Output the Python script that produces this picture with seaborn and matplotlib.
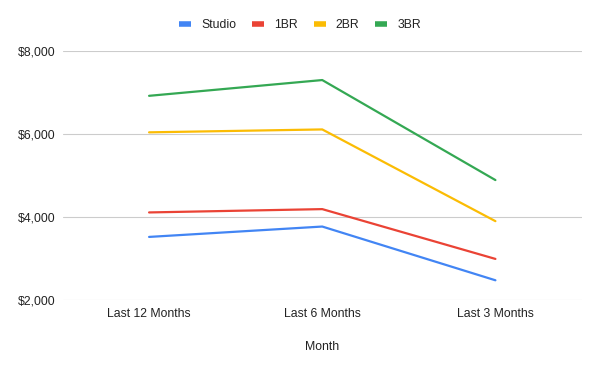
import matplotlib
matplotlib.use("Agg")
import matplotlib.pyplot as plt
import seaborn as sns
import pandas as pd
from matplotlib.ticker import FuncFormatter
from matplotlib.lines import Line2D

months = ["Last 12 Months", "Last 6 Months", "Last 3 Months"]
studio = [3520, 3770, 2475]
br1 = [4110, 4190, 2990]
br2 = [6040, 6110, 3900]
br3 = [6920, 7300, 4890]
series_names = ["Studio", "1BR", "2BR", "3BR"]
colors = ["#4285F4", "#EA4335", "#FBBC04", "#34A853"]

rows = []
for name, vals in zip(series_names, [studio, br1, br2, br3]):
    for m, v in zip(months, vals):
        rows.append({"Month": m, "Type": name, "Value": v})
df = pd.DataFrame(rows)

sns.set_theme(style="white")
plt.rcParams['font.family'] = ['Liberation Sans', 'DejaVu Sans']

fig = plt.figure(figsize=(6, 3.71), dpi=100)
ax = fig.add_axes([62.5/600, 1-300/371, (582-62.5)/600, (300-51)/371])

sns.lineplot(data=df, x="Month", y="Value", hue="Type", hue_order=series_names,
             palette=colors, linewidth=1.6, ax=ax, sort=False, legend=False)

ax.set_xlim(-0.5, 2.5)
ax.set_ylim(2000, 8000)
ax.set_yticks([2000, 4000, 6000, 8000])
ax.yaxis.set_major_formatter(FuncFormatter(lambda v, p: f"${v:,.0f}"))
ax.grid(axis="y", color="#cccccc", linewidth=0.8)
ax.set_axisbelow(True)
for s in ax.spines.values():
    s.set_visible(False)
ax.tick_params(axis="both", length=0, labelsize=8.8, colors="#222222")
ax.tick_params(axis="y", pad=5)
ax.tick_params(axis="x", pad=6)
ax.set_ylabel("")
ax.set_xlabel("Month", fontsize=8.8, color="#222222", labelpad=15)

handles = [Line2D([0], [0], color=c, linewidth=4, solid_capstyle="butt") for c in colors]
fig.legend(handles, series_names, loc="center", bbox_to_anchor=(300/600, 1-25/371),
           ncol=4, frameon=False, fontsize=8.8, handlelength=1.0, columnspacing=1.3,
           handletextpad=0.8, labelcolor="#222222")

fig.savefig("out.png", dpi=100)
